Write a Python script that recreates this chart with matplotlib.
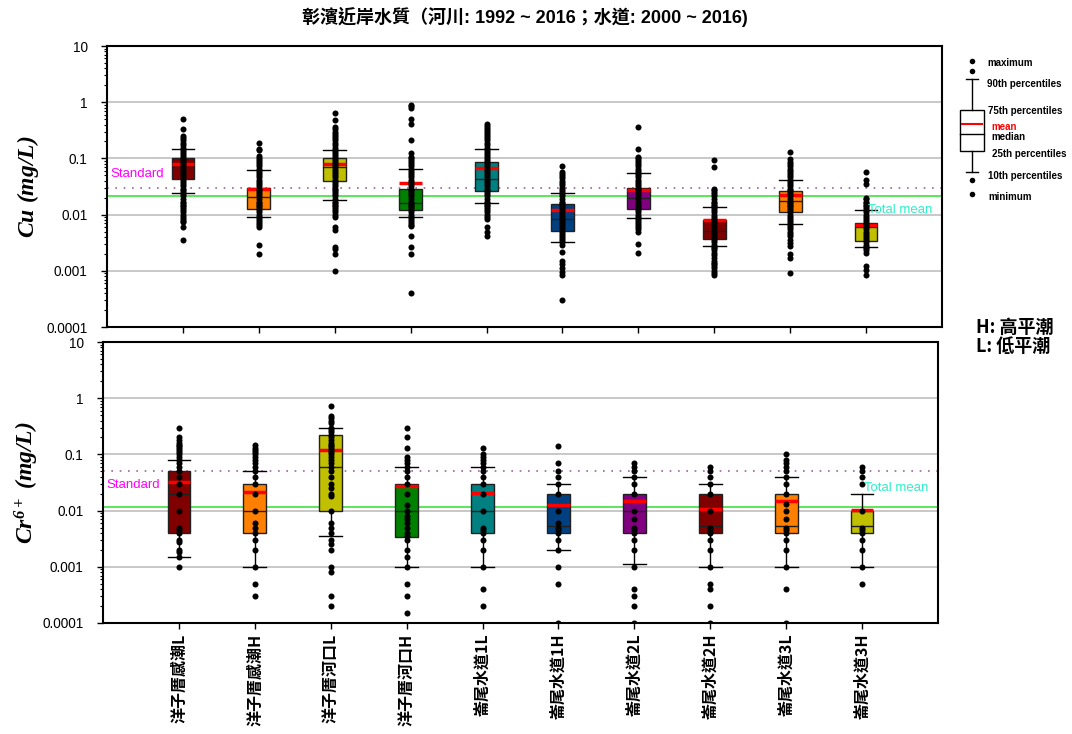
import matplotlib
matplotlib.use('Agg')
import matplotlib.pyplot as plt
from matplotlib.patches import Rectangle
from matplotlib.lines import Line2D

plt.rcParams['font.family'] = ['Liberation Sans', 'Noto Sans CJK TC', 'DejaVu Sans']
plt.rcParams['mathtext.fontset'] = 'custom'
plt.rcParams['mathtext.rm'] = 'Liberation Serif:italic:bold'
plt.rcParams['mathtext.it'] = 'Liberation Serif:italic:bold'
plt.rcParams['mathtext.bf'] = 'Liberation Serif:italic:bold'

# ---------------- data ----------------
sites = ['洋子厝感潮L', '洋子厝感潮H', '洋子厝河口L', '洋子厝河口H', '崙尾水道1L',
         '崙尾水道1H', '崙尾水道2L', '崙尾水道2H', '崙尾水道3L', '崙尾水道3H']
box_colors = ['#800000', '#FF8000', '#C0C000', '#008000', '#008080',
              '#004080', '#800080', '#800000', '#FF8000', '#C0C000']

# Cu (mg/L): 10th, 25th, median, 75th, 90th percentiles and mean
cu_p10 = [0.0246, 0.009, 0.0185, 0.0091, 0.016, 0.0033, 0.0087, 0.0028, 0.0067, 0.0027]
cu_q1 = [0.0435, 0.0128, 0.040, 0.0121, 0.0267, 0.0052, 0.0126, 0.00375, 0.0113, 0.0034]
cu_med = [0.070, 0.0206, 0.071, 0.0163, 0.0435, 0.0085, 0.0195, 0.0051, 0.0178, 0.0059]
cu_q3 = [0.100, 0.030, 0.100, 0.029, 0.086, 0.0152, 0.0297, 0.008, 0.026, 0.0072]
cu_p90 = [0.148, 0.063, 0.14, 0.066, 0.147, 0.0246, 0.0557, 0.0135, 0.041, 0.0119]
cu_mean = [0.081, 0.028, 0.080, 0.037, 0.068, 0.0123, 0.0274, 0.0081, 0.0226, 0.0065]
cu_standard = 0.03
cu_total_mean = 0.021

cu_pts1 = [0.51, 0.33, 0.25, 0.23, 0.21, 0.19, 0.17, 0.155, 0.14, 0.13, 0.12, 0.11, 0.1, 0.092, 0.085,
           0.078, 0.072, 0.066, 0.06, 0.055, 0.05, 0.046, 0.042, 0.038, 0.035, 0.032, 0.029, 0.027,
           0.025, 0.023, 0.021, 0.019, 0.017, 0.016, 0.015, 0.014, 0.013, 0.012, 0.011, 0.01, 0.0092,
           0.0085, 0.0078, 0.0074, 0.006, 0.0035]
cu_pts2 = [0.19, 0.15, 0.14, 0.11, 0.1, 0.092, 0.085, 0.078, 0.072, 0.066, 0.06, 0.055, 0.05, 0.046,
           0.042, 0.038, 0.035, 0.032, 0.029, 0.027, 0.025, 0.023, 0.021, 0.019, 0.017, 0.016, 0.015,
           0.014, 0.013, 0.012, 0.011, 0.01, 0.0092, 0.0085, 0.0078, 0.0072, 0.0066, 0.006, 0.0029, 0.002]
cu_pts3 = [0.63, 0.49, 0.36, 0.33, 0.3, 0.27, 0.25, 0.23, 0.21, 0.19, 0.17, 0.155, 0.14, 0.13, 0.12,
           0.11, 0.1, 0.092, 0.085, 0.078, 0.072, 0.066, 0.06, 0.055, 0.05, 0.046, 0.042, 0.038, 0.035,
           0.032, 0.029, 0.027, 0.025, 0.023, 0.021, 0.019, 0.017, 0.016, 0.015, 0.014, 0.013, 0.012,
           0.011, 0.01, 0.0092, 0.006, 0.0053, 0.0026, 0.0024, 0.002, 0.001]
cu_pts4 = [0.91, 0.85, 0.78, 0.5, 0.41, 0.21, 0.126, 0.106, 0.1, 0.092, 0.085, 0.078, 0.072, 0.066,
           0.06, 0.055, 0.05, 0.046, 0.042, 0.038, 0.035, 0.032, 0.029, 0.027, 0.025, 0.023, 0.021,
           0.019, 0.017, 0.016, 0.015, 0.014, 0.013, 0.012, 0.011, 0.01, 0.0092, 0.0085, 0.0078,
           0.0072, 0.0066, 0.0063, 0.0041, 0.0026, 0.002, 0.00041]
cu_pts5 = [0.41, 0.38, 0.35, 0.32, 0.29, 0.27, 0.25, 0.23, 0.21, 0.19, 0.17, 0.155, 0.14, 0.13, 0.12,
           0.11, 0.1, 0.092, 0.085, 0.078, 0.072, 0.066, 0.06, 0.055, 0.05, 0.046, 0.042, 0.038, 0.035,
           0.032, 0.029, 0.027, 0.025, 0.023, 0.021, 0.019, 0.017, 0.016, 0.015, 0.014, 0.013, 0.012,
           0.011, 0.01, 0.0092, 0.0085, 0.0059, 0.0049, 0.0041]
cu_pts6 = [0.073, 0.057, 0.052, 0.048, 0.044, 0.04, 0.036, 0.033, 0.03, 0.027, 0.025, 0.023, 0.021,
           0.019, 0.017, 0.016, 0.015, 0.014, 0.013, 0.012, 0.011, 0.01, 0.0092, 0.0085, 0.0078, 0.0072,
           0.0066, 0.006, 0.0055, 0.005, 0.0046, 0.0042, 0.0038, 0.0035, 0.0032, 0.0029, 0.0022,
           0.0015, 0.0013, 0.0011, 0.00095, 0.00083, 0.0003]
cu_pts7 = [0.365, 0.149, 0.107, 0.1, 0.092, 0.085, 0.078, 0.072, 0.066, 0.06, 0.055, 0.05, 0.046,
           0.042, 0.038, 0.035, 0.032, 0.029, 0.027, 0.025, 0.023, 0.021, 0.019, 0.017, 0.016, 0.015,
           0.014, 0.013, 0.012, 0.011, 0.01, 0.0092, 0.0085, 0.0078, 0.0072, 0.0066, 0.006, 0.0055,
           0.005, 0.003, 0.0021]
cu_pts8 = [0.093, 0.07, 0.029, 0.027, 0.025, 0.023, 0.021, 0.019, 0.017, 0.016, 0.015, 0.014, 0.013,
           0.012, 0.011, 0.01, 0.0092, 0.0085, 0.0078, 0.0072, 0.0066, 0.006, 0.0055, 0.005, 0.0046,
           0.0042, 0.0038, 0.0035, 0.0032, 0.0029, 0.0027, 0.0025, 0.0023, 0.0021, 0.0019, 0.0017,
           0.0015, 0.0014, 0.0013, 0.0012, 0.0011, 0.001, 0.00092, 0.00084]
cu_pts9 = [0.13, 0.096, 0.088, 0.08, 0.073, 0.066, 0.06, 0.055, 0.05, 0.046, 0.042, 0.038, 0.035,
           0.032, 0.029, 0.027, 0.025, 0.023, 0.021, 0.019, 0.017, 0.016, 0.015, 0.014, 0.013, 0.012,
           0.011, 0.01, 0.0092, 0.0085, 0.0078, 0.0072, 0.0066, 0.006, 0.0055, 0.005, 0.0046, 0.0042,
           0.0035, 0.0031, 0.0028, 0.002, 0.0017, 0.00091]
cu_pts10 = [0.057, 0.041, 0.0355, 0.02, 0.019, 0.017, 0.016, 0.015, 0.014, 0.013, 0.012, 0.011, 0.01,
            0.0092, 0.0085, 0.0078, 0.0072, 0.0066, 0.006, 0.0055, 0.005, 0.0046, 0.0042, 0.0038,
            0.0035, 0.0032, 0.0029, 0.0027, 0.0025, 0.0023, 0.0021, 0.0012, 0.00104, 0.00085]
cu_points = [cu_pts1, cu_pts2, cu_pts3, cu_pts4, cu_pts5, cu_pts6, cu_pts7, cu_pts8, cu_pts9, cu_pts10]

# Cr6+ (mg/L)
cr_p10 = [0.0015, 0.001, 0.0036, 0.001, 0.001, 0.002, 0.0011, 0.001, 0.001, 0.001]
cr_q1 = [0.004, 0.004, 0.010, 0.0034, 0.004, 0.004, 0.004, 0.004, 0.004, 0.004]
cr_med = [0.020, 0.010, 0.060, 0.010, 0.010, 0.0053, 0.010, 0.0053, 0.0053, 0.0053]
cr_q3 = [0.050, 0.030, 0.217, 0.030, 0.030, 0.020, 0.020, 0.020, 0.020, 0.010]
cr_p90 = [0.080, 0.050, 0.300, 0.060, 0.060, 0.030, 0.040, 0.030, 0.040, 0.020]
cr_mean = [0.0327, 0.0211, 0.119, 0.0278, 0.0206, 0.0128, 0.0148, 0.0107, 0.015, 0.0104]
cr_standard = 0.05
cr_total_mean = 0.0115

cr_pts1 = [0.3, 0.2, 0.18, 0.16, 0.15, 0.14, 0.13, 0.12, 0.11, 0.1, 0.09, 0.08, 0.07, 0.06, 0.05,
           0.04, 0.03, 0.02, 0.01, 0.005, 0.0045, 0.004, 0.003, 0.0028, 0.002, 0.0018, 0.0015, 0.001]
cr_pts2 = [0.15, 0.13, 0.12, 0.11, 0.1, 0.09, 0.08, 0.07, 0.06, 0.05, 0.04, 0.03, 0.02, 0.01, 0.006,
           0.005, 0.004, 0.003, 0.002, 0.001, 0.0005, 0.0003]
cr_pts3 = [0.73, 0.48, 0.44, 0.4, 0.36, 0.3, 0.27, 0.25, 0.22, 0.2, 0.18, 0.16, 0.15, 0.14, 0.13,
           0.12, 0.11, 0.1, 0.09, 0.08, 0.07, 0.06, 0.05, 0.04, 0.03, 0.025, 0.02, 0.018, 0.01, 0.006,
           0.005, 0.004, 0.003, 0.0025, 0.002, 0.001, 0.0008, 0.0003, 0.0002]
cr_pts4 = [0.3, 0.2, 0.13, 0.09, 0.08, 0.07, 0.06, 0.05, 0.04, 0.03, 0.02, 0.0125, 0.01, 0.008, 0.007,
           0.006, 0.005, 0.004, 0.0035, 0.003, 0.002, 0.0015, 0.001, 0.0005, 0.0003, 0.00015]
cr_pts5 = [0.13, 0.1, 0.09, 0.08, 0.07, 0.06, 0.05, 0.04, 0.03, 0.02, 0.01, 0.005, 0.0045, 0.004,
           0.003, 0.002, 0.001, 0.0004, 0.0002]
cr_pts6 = [0.14, 0.07, 0.05, 0.04, 0.03, 0.02, 0.01, 0.006, 0.005, 0.0045, 0.004, 0.003, 0.002,
           0.001, 0.0005, 0.0001]
cr_pts7 = [0.07, 0.06, 0.05, 0.04, 0.03, 0.02, 0.01, 0.007, 0.005, 0.0045, 0.004, 0.003, 0.002,
           0.001, 0.0004, 0.0003, 0.0002, 0.0001]
cr_pts8 = [0.06, 0.05, 0.04, 0.03, 0.02, 0.01, 0.005, 0.0045, 0.004, 0.003, 0.002, 0.001, 0.0005,
           0.0004, 0.0002, 0.0001]
cr_pts9 = [0.1, 0.08, 0.07, 0.06, 0.05, 0.04, 0.03, 0.02, 0.013, 0.01, 0.007, 0.005, 0.0045, 0.004,
           0.003, 0.002, 0.001, 0.0004, 0.0001]
cr_pts10 = [0.06, 0.05, 0.04, 0.03, 0.01, 0.005, 0.0045, 0.004, 0.003, 0.002, 0.001, 0.0005]
cr_points = [cr_pts1, cr_pts2, cr_pts3, cr_pts4, cr_pts5, cr_pts6, cr_pts7, cr_pts8, cr_pts9, cr_pts10]

title = '彰濱近岸水質（河川: 1992 ~ 2016；水道: 2000 ~ 2016)'
yticks = [0.0001, 0.001, 0.01, 0.1, 1, 10]
ytick_labels = ['0.0001', '0.001', '0.01', '0.1', '1', '10']

# ---------------- figure ----------------
W, H = 1072, 734
fig = plt.figure(figsize=(W / 100, H / 100), dpi=100)


def px_axes(l, t, r, b):
    return fig.add_axes([l / W, 1 - b / H, (r - l) / W, (b - t) / H])


ax1 = px_axes(107, 46, 942, 327)
ax2 = px_axes(103, 342, 938, 623)

positions = list(range(1, len(sites) + 1))


def draw_panel(ax, p10, q1, med, q3, p90, mean, points, std, tmean, ylabel, std_y, tm_y, lab_x):
    stats = []
    for i in range(len(sites)):
        stats.append(dict(whislo=p10[i], q1=q1[i], med=med[i], q3=q3[i], whishi=p90[i],
                          mean=mean[i], fliers=[]))
    bp = ax.bxp(stats, positions=positions, widths=0.3, capwidths=0.3, patch_artist=True,
                showmeans=True, meanline=True, showfliers=False,
                boxprops=dict(edgecolor='#202020', linewidth=1.0),
                medianprops=dict(color='#202020', linewidth=1.0),
                meanprops=dict(color='red', linewidth=2.5, linestyle='-'),
                whiskerprops=dict(color='black', linewidth=1.0),
                capprops=dict(color='black', linewidth=1.0), zorder=3)
    for patch, c in zip(bp['boxes'], box_colors):
        patch.set_facecolor(c)
    for i, pts in enumerate(points):
        ax.scatter([positions[i]] * len(pts), pts, s=19, color='black', zorder=5, linewidths=0)
    ax.set_yscale('log')
    ax.set_ylim(0.0001, 10)
    ax.set_xlim(0, 11)
    ax.set_yticks(yticks)
    ax.set_yticklabels(ytick_labels, fontsize=9.8)
    ax.set_xticks(positions)
    ax.yaxis.grid(True, which='major', color='#C8C8C8', linewidth=1.4, zorder=0)
    ax.set_axisbelow(True)
    ax.axhline(std, color='#A060A0', linestyle=(0, (1, 4)), linewidth=1.2, zorder=2)
    ax.axhline(tmean, color='#40E040', linewidth=1.2, zorder=2)
    ax.text(0.04, std_y, 'Standard', color='#FF00FF', fontsize=9.5, va='center', ha='left', zorder=6)
    ax.text(10.02, tm_y, 'Total mean', color='#30F0C8', fontsize=9.5, va='center', ha='left', zorder=6)
    ax.tick_params(axis='y', which='major', direction='out', length=4, width=1, pad=10)
    ax.tick_params(axis='y', which='minor', direction='out', length=2, width=0.8)
    ax.tick_params(axis='x', direction='out', length=4, width=1)
    for s in ax.spines.values():
        s.set_linewidth(1.5)
    ax.set_ylabel(ylabel, fontsize=17)
    ax.yaxis.set_label_coords(lab_x, 0.5)


draw_panel(ax1, cu_p10, cu_q1, cu_med, cu_q3, cu_p90, cu_mean, cu_points, cu_standard,
           cu_total_mean, r'$Cu\ (mg/L)$', 0.053, 0.0121, -0.079)
draw_panel(ax2, cr_p10, cr_q1, cr_med, cr_q3, cr_p90, cr_mean, cr_points, cr_standard,
           cr_total_mean, r'$Cr^{6+}\ (mg/L)$', 0.0285, 0.0248, -0.074)
ax1.set_xticklabels([])
ax2.set_xticklabels(sites, rotation=90, fontsize=11.5, fontweight='bold',
                    family=['Noto Sans CJK TC'], va='top')

fig.text(525 / W, 1 - 17 / H, title, ha='center', va='center', fontsize=13, fontweight='bold')

# ---------------- legend key (figure pixel coordinates) ----------------
lax = fig.add_axes([0, 0, 1, 1], zorder=-1)
lax.set_xlim(0, W)
lax.set_ylim(H, 0)
lax.axis('off')
cx = 972
lax.add_patch(Rectangle((960, 110), 24, 41, facecolor='white', edgecolor='black', lw=1.0))
lax.add_line(Line2D([962, 982], [124, 124], color='red', lw=1.5))
lax.add_line(Line2D([960, 984], [134, 134], color='black', lw=1.0))
lax.add_line(Line2D([cx, cx], [79, 110], color='black', lw=1.0))
lax.add_line(Line2D([cx, cx], [151, 172], color='black', lw=1.0))
lax.add_line(Line2D([966, 978], [79, 79], color='black', lw=1.0))
lax.add_line(Line2D([966, 978], [172, 172], color='black', lw=1.0))
lax.scatter([cx, cx, cx, cx], [61, 71, 180, 194], s=16, color='black', linewidths=0)
key_texts = [('maximum', 987, 63, 'black'), ('90th percentiles', 987, 84, 'black'),
             ('75th percentiles', 988, 111, 'black'), ('mean', 991, 127, 'red'),
             ('median', 991, 137, 'black'), ('25th percentiles', 992, 154, 'black'),
             ('10th percentiles', 988, 176, 'black'), ('minimum', 988, 197, 'black')]
for t, x, y, c in key_texts:
    lax.text(x, y, t, fontsize=7, fontweight='bold', color=c, va='center', ha='left')
lax.text(976, 327, 'H: 高平潮', fontsize=13, fontweight='bold', va='center', ha='left',
         family=['Noto Sans CJK TC'])
lax.text(976, 346, 'L: 低平潮', fontsize=13, fontweight='bold', va='center', ha='left',
         family=['Noto Sans CJK TC'])

fig.savefig('out.png', dpi=100)
